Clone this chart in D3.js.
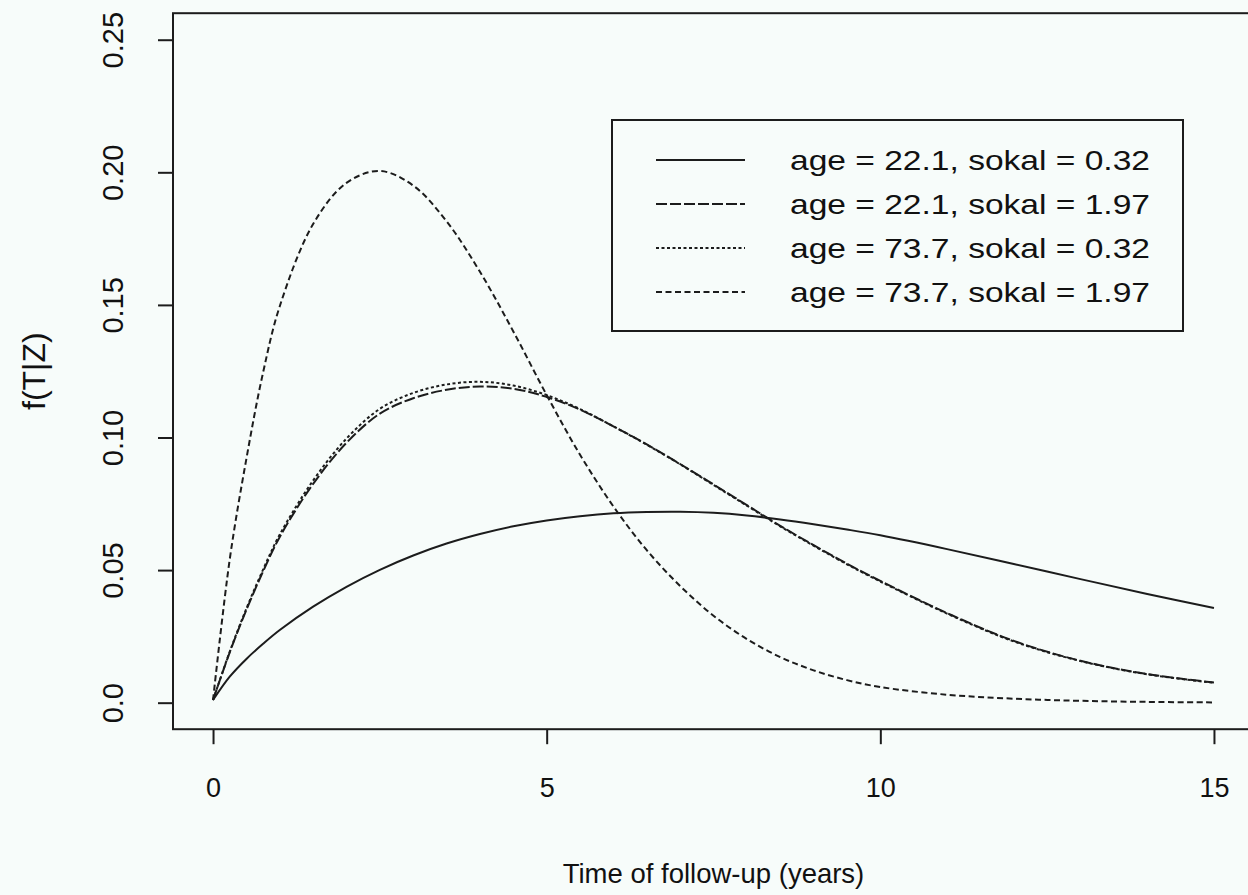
<!DOCTYPE html>
<html><head><meta charset="utf-8">
<script src="https://cdn.jsdelivr.net/npm/d3@7/dist/d3.min.js"></script>
<style>
body{margin:0;background:#f7fcfa;}
svg{display:block;background:#f7fcfa;}
text{font-family:"Liberation Sans",Arial,Helvetica,sans-serif;fill:#111;}
</style>
</head><body>
<svg id="chart" width="1248" height="895"></svg>
<script>
// ---- data ----
const times = [0, 0.25, 0.5, 0.75, 1, 1.5, 2, 2.5, 3, 3.5, 4, 4.5, 5, 5.5, 6, 6.5, 7, 7.5, 8, 8.5, 9, 9.5, 10, 11, 12, 13, 14, 15];
// age = 22.1, sokal = 0.32 (solid)
const seriesA = [0.001, 0.0098, 0.0165, 0.0222, 0.0274, 0.0362, 0.0437, 0.0501, 0.0555, 0.0600, 0.0636, 0.0665, 0.0687, 0.0703, 0.0714, 0.0719, 0.0720, 0.0716, 0.0706, 0.0691, 0.0673, 0.0653, 0.0631, 0.0579, 0.0523, 0.0466, 0.0410, 0.0357];
// age = 22.1, sokal = 1.97 (long dash)
const seriesB = [0.001, 0.0190, 0.0350, 0.0495, 0.0625, 0.0825, 0.0980, 0.1090, 0.1148, 0.1180, 0.1192, 0.1184, 0.1153, 0.1105, 0.1042, 0.0974, 0.0900, 0.0823, 0.0745, 0.0667, 0.0594, 0.0524, 0.0459, 0.0338, 0.0233, 0.0158, 0.0108, 0.0076];
// age = 73.7, sokal = 0.32 (dotted)
const seriesC = [0.001, 0.0192, 0.0355, 0.0502, 0.0634, 0.0838, 0.0996, 0.1108, 0.1168, 0.1200, 0.1210, 0.1196, 0.1160, 0.1107, 0.1042, 0.0973, 0.0899, 0.0821, 0.0743, 0.0665, 0.0592, 0.0522, 0.0457, 0.0336, 0.0231, 0.0157, 0.0107, 0.0075];
// age = 73.7, sokal = 1.97 (dashed)
const seriesD = [0.001, 0.0540, 0.0920, 0.1245, 0.1495, 0.1805, 0.1960, 0.2005, 0.1950, 0.1815, 0.1625, 0.1400, 0.1160, 0.0935, 0.0740, 0.0575, 0.0440, 0.0328, 0.0240, 0.0172, 0.0122, 0.0085, 0.0059, 0.0030, 0.0015, 0.0007, 0.0003, 0.0001];

const seriesLabels = ["age = 22.1, sokal = 0.32", "age = 22.1, sokal = 1.97", "age = 73.7, sokal = 0.32", "age = 73.7, sokal = 1.97"];
const xTicks = [0, 5, 10, 15];
const yTicks = [0, 0.05, 0.10, 0.15, 0.20, 0.25];
const yTickLabels = ["0.0", "0.05", "0.10", "0.15", "0.20", "0.25"];
const xTitle = "Time of follow-up (years)";
const yTitle = "f(T|Z)";

// ---- layout ----
const svg = d3.select("#chart");
const x = d3.scaleLinear().domain([-0.6, 15.6]).range([173, 1254]);
const y = d3.scaleLinear().domain([-0.01, 0.26]).range([729.2, 13.2]);

const dashes = [null, "11,3", "3,2.5", "6,3.5"];
const series = [seriesA, seriesB, seriesC, seriesD];
const ink = "#1c1c1c";

// plot box
svg.append("rect")
  .attr("x", x(-0.6)).attr("y", y(0.26))
  .attr("width", x(15.6) - x(-0.6)).attr("height", y(-0.01) - y(0.26))
  .attr("fill", "none").attr("stroke", ink).attr("stroke-width", 2);

// axes
const xAxis = svg.append("g").attr("transform", `translate(0,${y(-0.01)})`)
  .call(d3.axisBottom(x).tickValues(xTicks).tickSize(15).tickPadding(43).tickFormat(d3.format("d")));
xAxis.select(".domain").remove();
xAxis.selectAll(".tick line").attr("stroke", ink).attr("stroke-width", 2);
xAxis.selectAll(".tick text").attr("font-size", 27).attr("fill", "#111").attr("dy", "0.35em");
xAxis.attr("font-family", null);

const yAxis = svg.append("g").attr("transform", `translate(${x(-0.6)},0)`)
  .call(d3.axisLeft(y).tickValues(yTicks).tickSize(15).tickFormat((d, i) => yTickLabels[i]));
yAxis.select(".domain").remove();
yAxis.selectAll(".tick line").attr("stroke", ink).attr("stroke-width", 2);
yAxis.selectAll(".tick text")
  .attr("font-size", 29).attr("fill", "#111")
  .attr("text-anchor", "middle").attr("x", null).attr("dy", null)
  .attr("transform", "translate(-58,0) rotate(-90)")
  .attr("y", 0).attr("dominant-baseline", "middle");
yAxis.attr("font-family", null);

// titles
svg.append("text").attr("x", (x(-0.6) + x(15.6)) / 2).attr("y", 883)
  .attr("text-anchor", "middle").attr("font-size", 27.5).text(xTitle);
svg.append("text").attr("transform", `translate(45,${(y(-0.01) + y(0.26)) / 2}) rotate(-90)`)
  .attr("text-anchor", "middle").attr("font-size", 32).text(yTitle);

// curves
const line = d3.line()
  .x((d, i) => x(times[i]))
  .y(d => y(d))
  .curve(d3.curveCatmullRom.alpha(0.5));

series.forEach((s, k) => {
  svg.append("path").datum(s)
    .attr("d", line)
    .attr("fill", "none")
    .attr("stroke", ink)
    .attr("stroke-width", 2)
    .attr("stroke-dasharray", dashes[k]);
});

// legend
const lg = svg.append("g");
lg.append("rect").attr("x", 612).attr("y", 120).attr("width", 571).attr("height", 211)
  .attr("fill", "#f7fcfa").attr("stroke", ink).attr("stroke-width", 2);
seriesLabels.forEach((lab, k) => {
  const yy = 160 + k * 44;
  lg.append("line").attr("x1", 656).attr("x2", 745).attr("y1", yy).attr("y2", yy)
    .attr("stroke", ink).attr("stroke-width", 2).attr("stroke-dasharray", dashes[k]);
  lg.append("text").attr("x", 790).attr("y", yy).attr("dy", "0.36em")
    .attr("font-size", 28).attr("textLength", 360).attr("lengthAdjust", "spacingAndGlyphs").text(lab);
});
</script>
</body></html>
